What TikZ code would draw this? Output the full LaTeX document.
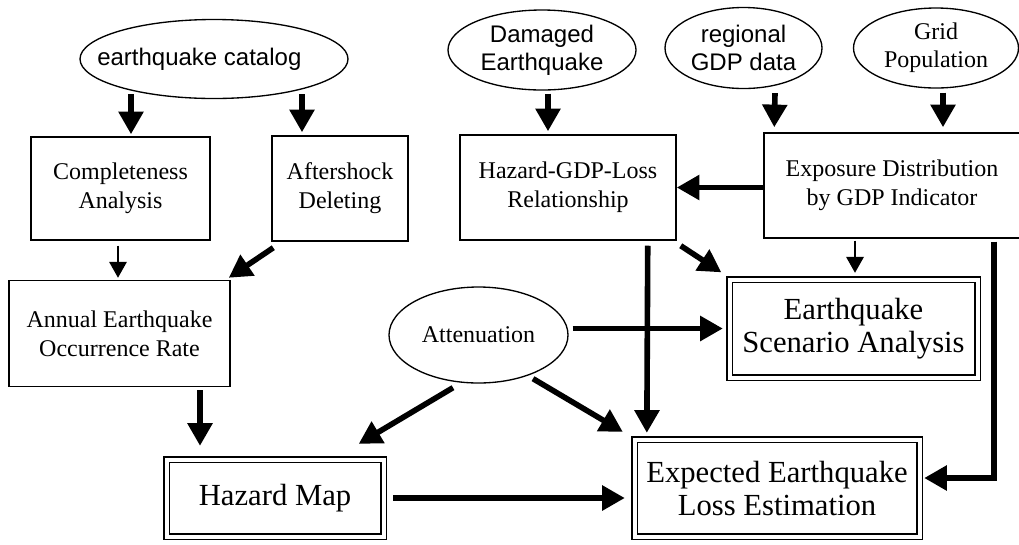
\documentclass[tikz,border=0pt]{standalone}
\usepackage{fontspec}
\setmainfont{Liberation Serif}
\setsansfont{Liberation Sans}
\usetikzlibrary{shapes.geometric,arrows.meta,calc}

\begin{document}
\begin{tikzpicture}
  [x=0.75pt,y=-0.75pt,
   box/.style={draw,line width=1.1pt,align=center,inner sep=0pt,
     font=\fontsize{18}{21.75}\selectfont},
   result/.style={box,double,double distance=3pt,line width=1pt,
     font=\fontsize{23}{24.75}\selectfont},
   src/.style={ellipse,draw,line width=1pt,align=center,inner sep=0pt,
     font=\fontsize{18}{21}\selectfont},
   srcsf/.style={src,font=\sffamily\fontsize{18}{21}\selectfont},
   fat/.style={-{Triangle[length=17pt,width=18pt]},line width=4.2pt},
   slim/.style={-{Triangle[length=12pt,width=13pt]},line width=1.8pt}]
  \useasboundingbox (0,0) rectangle (1019,544);

  % data sources
  \node[srcsf,inner xsep=-20pt,minimum width=201pt,minimum height=59.25pt]
    (ecat) at (214,59) {earthquake catalog\hspace*{22pt}};
  \node[srcsf,minimum width=141pt,minimum height=60pt]
    (damaged) at (542,50) {Damaged\\Earthquake};
  \node[srcsf,minimum width=117.75pt,minimum height=60.75pt]
    (regional) at (743.5,48) {regional\\GDP data};
  \node[src,minimum width=123.75pt,minimum height=60pt]
    (grid) at (936,48) {Grid\\Population};
  \node[src,minimum width=134.25pt,minimum height=72pt]
    (atten) at (478.5,335) {Attenuation};

  % processing steps
  \node[box,minimum width=134.25pt,minimum height=77.25pt]
    (compl) at (120.5,188.5) {Completeness\\Analysis};
  \node[box,minimum width=102pt,minimum height=78.75pt]
    (after) at (340,188.5) {Aftershock\\Deleting};
  \node[box,minimum width=165.75pt,minimum height=79.5pt]
    (annual) at (119.5,333.5) {Annual Earthquake\\Occurrence Rate};
  \node[box,minimum width=162pt,minimum height=78.75pt]
    (hgl) at (568,187.5) {Hazard-GDP-Loss\\Relationship};
  \node[box,minimum width=192pt,minimum height=78.75pt]
    (expo) at (892,185.5) {Exposure Distribution\\by GDP Indicator};

  % outputs
  \node[result,minimum width=162.75pt,minimum height=57.75pt]
    (hmap) at (275,498) {Hazard Map};
  \node[result,minimum width=186pt,minimum height=73.5pt]
    (scen) at (853.5,328.5) {Earthquake\\Scenario Analysis};
  \node[result,minimum width=213.75pt,minimum height=72.75pt]
    (expect) at (777,488) {Expected Earthquake\\Loss Estimation};

  % catalog branch
  \draw[fat] ($(compl.north)+(10.5,-42)$) -- ($(compl.north)+(10.5,-2)$);
  \draw[fat] ($(after.north)+(-38,-41)$) -- ($(after.north)+(-38,-3)$);
  \draw[slim] ($(compl.south)+(-2.5,5)$) -- ($(annual.north)+(-1.5,-2)$);
  \draw[fat] ($(after.south west)+(2,6)$) -- ($(annual.north east)+(-2,-2)$);
  \draw[fat] ($(annual.south)+(80.5,3)$) -- ($(hmap.north)+(-75,-13)$);

  % attenuation
  \draw[fat] ($(atten.south)+(-25.5,4)$) -- ($(hmap.north east)+(-25.5,-15)$);
  \draw[fat] ($(atten.south)+(54.5,-5)$) -- ($(expect.north west)+(-11,-7)$);
  \draw[fat] ($(atten.east |- scen.west)+(4,0)$) -- ($(scen.west)+(-6,0)$);

  % loss branch
  \draw[fat] ($(damaged.south)+(6,3)$) -- ($(hgl.north)+(-20,-3)$);
  \draw[fat] ($(regional.south)+(31.5,4)$) -- ($(expo.north west)+(11,-5)$);
  \draw[fat] ($(grid.south)+(7,4)$) -- ($(expo.north)+(51,-5)$);
  \draw[fat] (expo.west |- hgl.east) -- (hgl.east);
  \draw[fat] ($(hgl.south east)+(-29,5)$) -- ($(expect.north west)+(13,-6)$);
  \draw[fat] ($(hgl.south east)+(4,5)$) -- ($(scen.north west)+(-7.5,-6.5)$);
  \draw[slim] ($(scen.north |- expo.south)+(1.5,2)$) -- ($(scen.north)+(1.5,-6)$);
  \draw[fat] ($(expo.south east)+(-27,3)$) |- ($(expect.east)+(4,-10)$);
  \draw[fat] ($(hmap.east)+(9,0)$) -- ($(hmap.east -| expect.west)+(-9,0)$);
\end{tikzpicture}
\end{document}
